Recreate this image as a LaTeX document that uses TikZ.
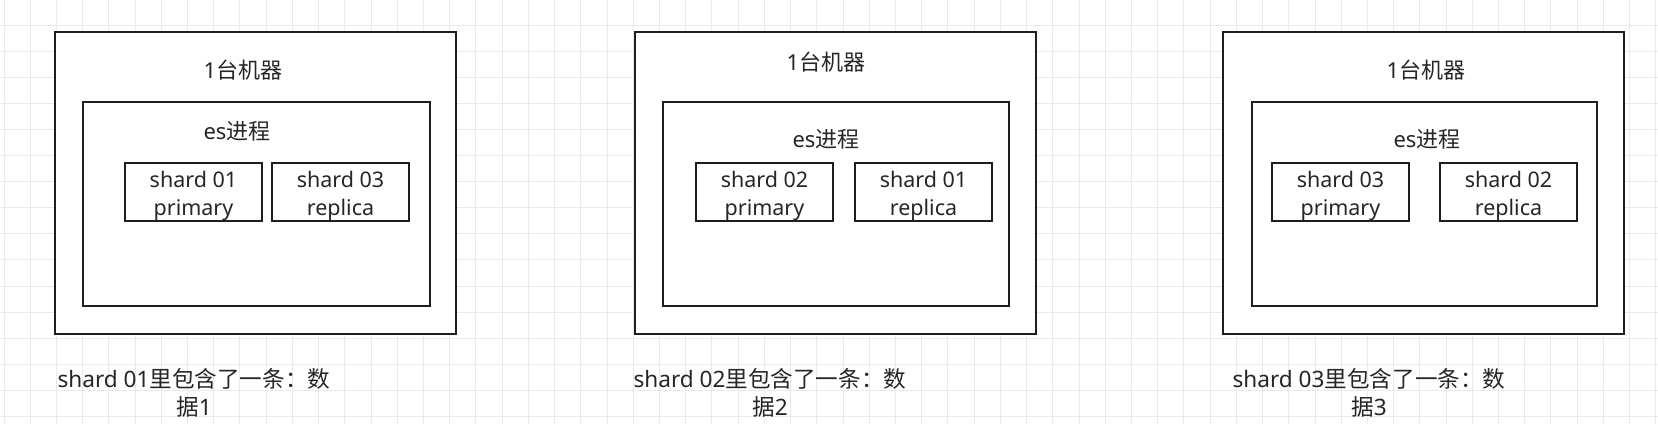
\documentclass[tikz,border=0pt]{standalone}
\usepackage{fontspec}
\setmainfont{Noto Sans}
\newfontfamily\cjk{Noto Sans CJK SC}
\definecolor{gridc}{HTML}{E9E9E9}
\definecolor{ink}{HTML}{1E1E1E}
\definecolor{txt}{HTML}{262626}
\begin{document}
\begin{tikzpicture}[x=1pt,y=-1pt,
  frame/.style={draw=ink, line width=2.6pt, fill=white, inner sep=0pt, outer sep=0pt},
  shardbox/.style={frame, minimum width=137pt, minimum height=58pt},
  shardtext/.style={text=txt, inner sep=0pt, align=center, font=\fontsize{21.5}{28}\selectfont},
  label/.style={text=txt, inner sep=0pt, font=\fontsize{22}{28}\selectfont},
  caption/.style={text=txt, inner sep=0pt, align=center, font=\fontsize{22.6}{28}\selectfont},
  gridline/.style={draw=gridc, line width=1pt}]
\useasboundingbox[fill=white] (0,0) rectangle (1658,424);
% background grid
\foreach \i in {0,...,63} \draw[gridline] ({4+\i*26.22},0) -- ({4+\i*26.22},424);
\foreach \j in {0,...,16} \draw[gridline] (0,{-1.1+\j*26.1}) -- (1658,{-1.1+\j*26.1});

% ---------- panel 1
\node[frame, minimum width=401pt, minimum height=302pt] (m1) at (255.5,183) {};
\node[label] (t1) at (243,70) {1{\cjk 台机器}};
\node[frame, minimum width=347pt, minimum height=204pt] (p1) at (256.5,204) {};
\node[label] (e1) at (237,131) {es{\cjk 进程}};
\node[shardbox] (a1) at (193.5,192) {};
\node[shardtext] (a1t) at (193.5,196) {shard 01\\primary};
\node[shardbox] (b1) at (340.5,192) {};
\node[shardtext] (b1t) at (340.5,196) {shard 03\\replica};
\node[caption] (c1) at (194,393) {shard 01{\cjk 里包含了一条：数}\\{\cjk 据}1};

% ---------- panel 2
\node[frame, minimum width=401pt, minimum height=302pt] (m2) at (835.5,183) {};
\node[label] (t2) at (826,62) {1{\cjk 台机器}};
\node[frame, minimum width=346pt, minimum height=204pt] (p2) at (836,204) {};
\node[label] (e2) at (826,139) {es{\cjk 进程}};
\node[shardbox] (a2) at (764.5,192) {};
\node[shardtext] (a2t) at (764.5,196) {shard 02\\primary};
\node[shardbox] (b2) at (923.5,192) {};
\node[shardtext] (b2t) at (923.5,196) {shard 01\\replica};
\node[caption] (c2) at (770,393) {shard 02{\cjk 里包含了一条：数}\\{\cjk 据}2};

% ---------- panel 3
\node[frame, minimum width=401pt, minimum height=302pt] (m3) at (1423.5,183) {};
\node[label] (t3) at (1426,70) {1{\cjk 台机器}};
\node[frame, minimum width=345pt, minimum height=204pt] (p3) at (1424.5,204) {};
\node[label] (e3) at (1427,139) {es{\cjk 进程}};
\node[shardbox] (a3) at (1340.5,192) {};
\node[shardtext] (a3t) at (1340.5,196) {shard 03\\primary};
\node[shardbox] (b3) at (1508.5,192) {};
\node[shardtext] (b3t) at (1508.5,196) {shard 02\\replica};
\node[caption] (c3) at (1369,393) {shard 03{\cjk 里包含了一条：数}\\{\cjk 据}3};
\end{tikzpicture}
\end{document}
